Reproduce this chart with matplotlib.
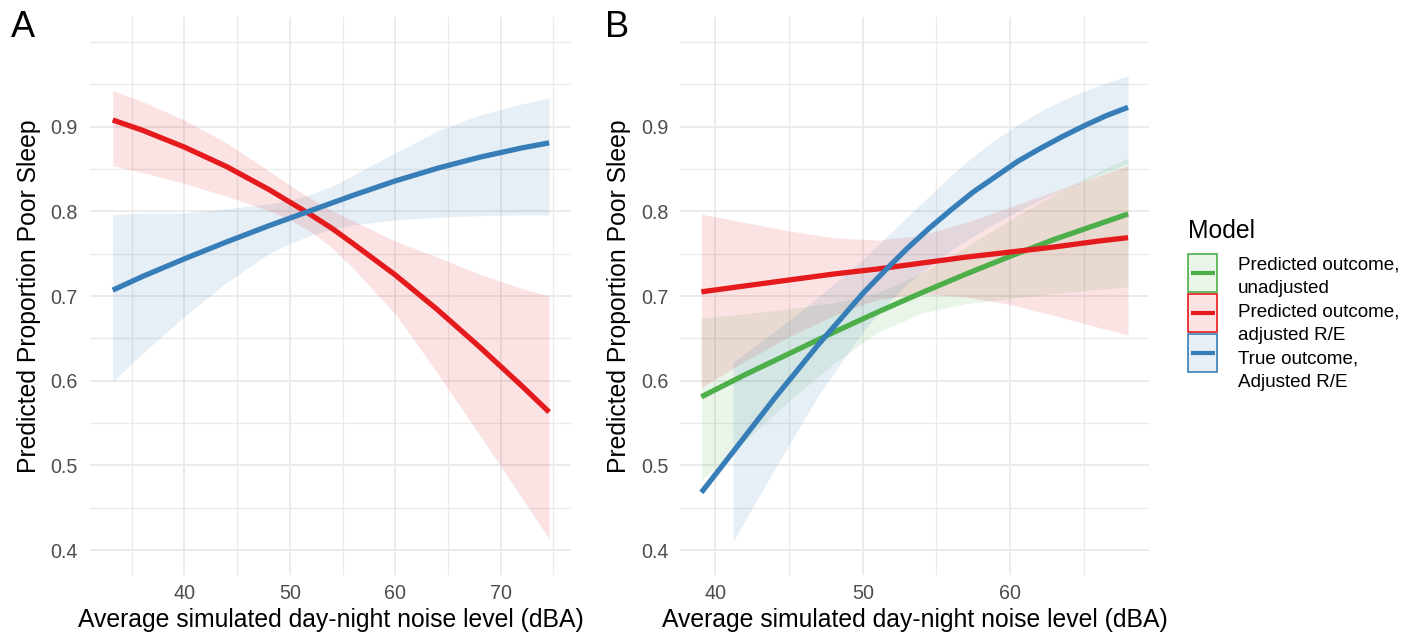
import matplotlib
matplotlib.use("Agg")
import matplotlib.pyplot as plt
from matplotlib.colors import to_rgba
from matplotlib.patches import Rectangle

plt.rcParams["font.family"] = ["Liberation Sans", "DejaVu Sans"]

# ---- data ----
# panel A: x grid shared by both series
A_X = [33.2, 36, 40, 44, 48, 50, 52, 54, 56, 60, 64, 68, 72, 74.6]
A_RED = [0.908, 0.896, 0.876, 0.853, 0.826, 0.811, 0.796, 0.780, 0.762, 0.725, 0.684,
         0.640, 0.594, 0.563]
A_RED_LO = [0.854, 0.846, 0.833, 0.818, 0.801, 0.790, 0.776, 0.757, 0.733, 0.679, 0.609,
            0.536, 0.462, 0.413]
A_RED_HI = [0.943, 0.930, 0.908, 0.881, 0.848, 0.831, 0.815, 0.801, 0.789, 0.765, 0.746,
            0.726, 0.709, 0.700]
A_BLUE = [0.707, 0.723, 0.744, 0.764, 0.783, 0.792, 0.801, 0.810, 0.819, 0.836, 0.851,
          0.864, 0.875, 0.881]
A_BLUE_LO = [0.599, 0.632, 0.676, 0.716, 0.750, 0.762, 0.772, 0.779, 0.784, 0.790, 0.793,
             0.795, 0.796, 0.796]
A_BLUE_HI = [0.796, 0.798, 0.798, 0.803, 0.809, 0.813, 0.820, 0.830, 0.843, 0.869, 0.895,
             0.914, 0.927, 0.934]

# panel B
B_X = [39.05, 42, 45, 48, 51, 54, 57, 60, 63, 66, 68]
B_GREEN = [0.581, 0.607, 0.632, 0.657, 0.681, 0.704, 0.726, 0.747, 0.767, 0.785, 0.797]
B_GREEN_LO = [0.482, 0.529, 0.576, 0.620, 0.657, 0.680, 0.691, 0.697, 0.703, 0.708, 0.711]
B_GREEN_HI = [0.674, 0.679, 0.685, 0.692, 0.704, 0.727, 0.758, 0.790, 0.820, 0.847, 0.863]
B_RED = [0.705, 0.712, 0.719, 0.726, 0.732, 0.739, 0.746, 0.752, 0.758, 0.765, 0.769]
B_RED_LO = [0.592, 0.623, 0.652, 0.677, 0.696, 0.703, 0.699, 0.690, 0.677, 0.663, 0.654]
B_RED_HI = [0.797, 0.787, 0.777, 0.769, 0.766, 0.772, 0.787, 0.805, 0.824, 0.842, 0.854]
B_BLUE_X = [39.05, 41.2, 44, 47, 50, 51.5, 53, 54.5, 56, 57.5, 59, 60.5, 62, 63.5, 65, 66.5, 68]
B_BLUE = [0.468, 0.516, 0.579, 0.643, 0.703, 0.730, 0.756, 0.780, 0.802, 0.823, 0.841,
          0.859, 0.874, 0.888, 0.901, 0.913, 0.923]
# blue ribbon starts later than the blue line
B_BLUE_RX = [41.2, 44, 47, 50, 51.5, 53, 54.5, 56, 57.5, 59, 60.5, 62, 63.5, 65, 66.5, 68]
B_BLUE_LO = [0.410, 0.495, 0.583, 0.658, 0.688, 0.714, 0.735, 0.754, 0.771, 0.786, 0.800,
             0.813, 0.825, 0.836, 0.847, 0.857]
B_BLUE_HI = [0.622, 0.658, 0.699, 0.743, 0.768, 0.793, 0.818, 0.843, 0.865, 0.885, 0.902,
             0.918, 0.931, 0.942, 0.952, 0.960]

LEGEND_TITLE = "Model"
LEGEND_LABELS = ["Predicted outcome,\nunadjusted",
                 "Predicted outcome,\nadjusted R/E",
                 "True outcome,\nAdjusted R/E"]

GREEN, RED, BLUE = "#4DAF4A", "#E41A1C", "#377EB8"
GRID = "#EBEBEB"
BASE = 17.8
ALPHA = 0.12
LW = 3.8

XLAB = "Average simulated day-night noise level (dBA)"
YLAB = "Predicted Proportion Poor Sleep"


def style_axis(ax, xlim, xmaj, xmin):
    ax.set_xlim(*xlim)
    ax.set_ylim(0.3705, 1.030)
    ax.set_xticks(xmaj)
    ax.set_xticks(xmin, minor=True)
    ax.set_yticks([0.4, 0.5, 0.6, 0.7, 0.8, 0.9])
    ax.set_yticks([0.45, 0.55, 0.65, 0.75, 0.85, 0.95, 1.0], minor=True)
    ax.set_yticklabels(["0.4", "0.5", "0.6", "0.7", "0.8", "0.9"])
    ax.grid(True, which="major", color=GRID, lw=1.4)
    ax.grid(True, which="minor", color=GRID, lw=1.0)
    ax.set_axisbelow(True)
    for s in ax.spines.values():
        s.set_visible(False)
    ax.tick_params(which="both", length=0, labelsize=BASE * 0.8,
                   labelcolor="#4D4D4D", pad=8.4)
    ax.tick_params(axis="x", pad=6.5)
    ax.set_xlabel(XLAB, fontsize=BASE, labelpad=3.5)
    ax.set_ylabel(YLAB, fontsize=BASE, labelpad=7)


fig = plt.figure(figsize=(14.14, 6.36), dpi=100)
axA = fig.add_axes([0.0633, 0.0959, 0.3407, 0.8778])
axB = fig.add_axes([0.4809, 0.0959, 0.3320, 0.8778])

# panel A
axA.fill_between(A_X, A_BLUE_LO, A_BLUE_HI, color=BLUE, alpha=ALPHA, lw=0)
axA.fill_between(A_X, A_RED_LO, A_RED_HI, color=RED, alpha=ALPHA, lw=0)
axA.plot(A_X, A_RED, color=RED, lw=LW, solid_capstyle="butt")
axA.plot(A_X, A_BLUE, color=BLUE, lw=LW, solid_capstyle="butt")
style_axis(axA, (31.0, 76.7), [40, 50, 60, 70], [35, 45, 55, 65, 75])

# panel B
axB.fill_between(B_X, B_GREEN_LO, B_GREEN_HI, color=GREEN, alpha=ALPHA, lw=0)
axB.fill_between(B_X, B_RED_LO, B_RED_HI, color=RED, alpha=ALPHA, lw=0)
axB.fill_between(B_BLUE_RX, B_BLUE_LO, B_BLUE_HI, color=BLUE, alpha=ALPHA, lw=0)
axB.plot(B_X, B_GREEN, color=GREEN, lw=LW, solid_capstyle="butt")
axB.plot(B_X, B_RED, color=RED, lw=LW, solid_capstyle="butt")
axB.plot(B_BLUE_X, B_BLUE, color=BLUE, lw=LW, solid_capstyle="butt")
style_axis(axB, (37.6, 69.45), [40, 50, 60], [45, 55, 65])

# panel letters
fig.text(11 / 1414, 1 - 37 / 636, "A", fontsize=26, va="baseline", ha="left")
fig.text(605 / 1414, 1 - 37 / 636, "B", fontsize=26, va="baseline", ha="left")

# legend, laid out in pixel units on an overlay axes
lax = fig.add_axes([0, 0, 1, 1])
lax.set_xlim(0, 1414)
lax.set_ylim(636, 0)
lax.axis("off")
lax.text(1188, 238, LEGEND_TITLE, fontsize=BASE, va="baseline", ha="left")
line_no = 0
for i, (c, lab) in enumerate(zip([GREEN, RED, BLUE], LEGEND_LABELS)):
    top = 254 + 40 * i
    lax.add_patch(Rectangle((1188, top), 29, 38, facecolor=to_rgba(c, ALPHA),
                            edgecolor=c, lw=1.2))
    lax.plot([1190.5, 1214.5], [top + 19, top + 19], color=c, lw=3.0,
             solid_capstyle="butt")
    for part in lab.split("\n"):
        lax.text(1238, 270 + 23.4 * line_no, part, fontsize=13.6,
                 va="baseline", ha="left")
        line_no += 1

fig.savefig("out.png", dpi=100)
